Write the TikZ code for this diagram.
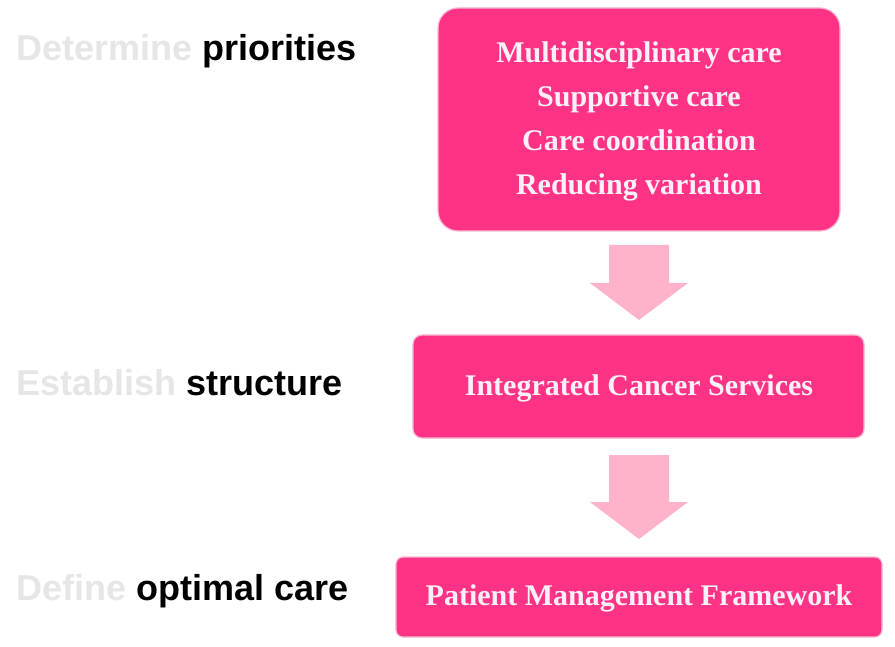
\documentclass[tikz,border=0pt]{standalone}
\usepackage{fontspec}
\setmainfont{Liberation Serif}
\newfontfamily\lsans{Liberation Sans}
\begin{document}
\begin{tikzpicture}[x=1pt,y=-1pt,
  pinkbox/.style={draw=boxedge,line width=1.2pt,fill=boxfill},
  boxlabel/.style={text=boxtext,font=\bfseries\fontsize{30}{44}\selectfont,align=center,inner sep=0pt},
  sidelabel/.style={anchor=west,inner sep=0pt,font=\lsans\bfseries\fontsize{36}{40}\selectfont},
  downarrow/.style={fill=arrowfill,draw=none}]
\definecolor{boxfill}{HTML}{FF3385}
\definecolor{boxedge}{HTML}{F7B8D2}
\definecolor{boxtext}{HTML}{FDF0F6}
\definecolor{arrowfill}{HTML}{FFB3CB}
\definecolor{faded}{HTML}{E6E6E6}
\useasboundingbox (0,0) rectangle (895,647);
\fill[white] (0,0) rectangle (895,647);
% boxes
\draw[pinkbox,rounded corners=20pt] (438,8) rectangle (840,231);
\node[boxlabel] (b1) at (639,121.5) {Multidisciplinary care\\Supportive care\\Care coordination\\Reducing variation};
\draw[pinkbox,rounded corners=9pt] (413,335) rectangle (864,438);
\node[boxlabel] (b2) at (639,388.5) {Integrated Cancer Services};
\draw[pinkbox,rounded corners=7pt] (396,557) rectangle (882,637);
\node[boxlabel] (b3) at (639,598.5) {Patient Management Framework};
% arrows
\coordinate (a1) at (639,245);
\fill[downarrow] (a1) ++(-30,0) -- ++(60,0) -- ++(0,38) -- ++(19,0) -- ++(-49,37) -- ++(-49,-37) -- ++(19,0) -- cycle;
\coordinate (a2) at (639,455);
\fill[downarrow] (a2) ++(-30,0) -- ++(60,0) -- ++(0,47) -- ++(19,0) -- ++(-49,37) -- ++(-49,-37) -- ++(19,0) -- cycle;
% side labels
\node[sidelabel] (l1) at (16,51) {\textcolor{faded}{Determine} priorities};
\node[sidelabel] (l2) at (16,383) {\textcolor{faded}{Establish} structure};
\node[sidelabel] (l3) at (16,591) {\textcolor{faded}{Define} optimal care};
\end{tikzpicture}
\end{document}
